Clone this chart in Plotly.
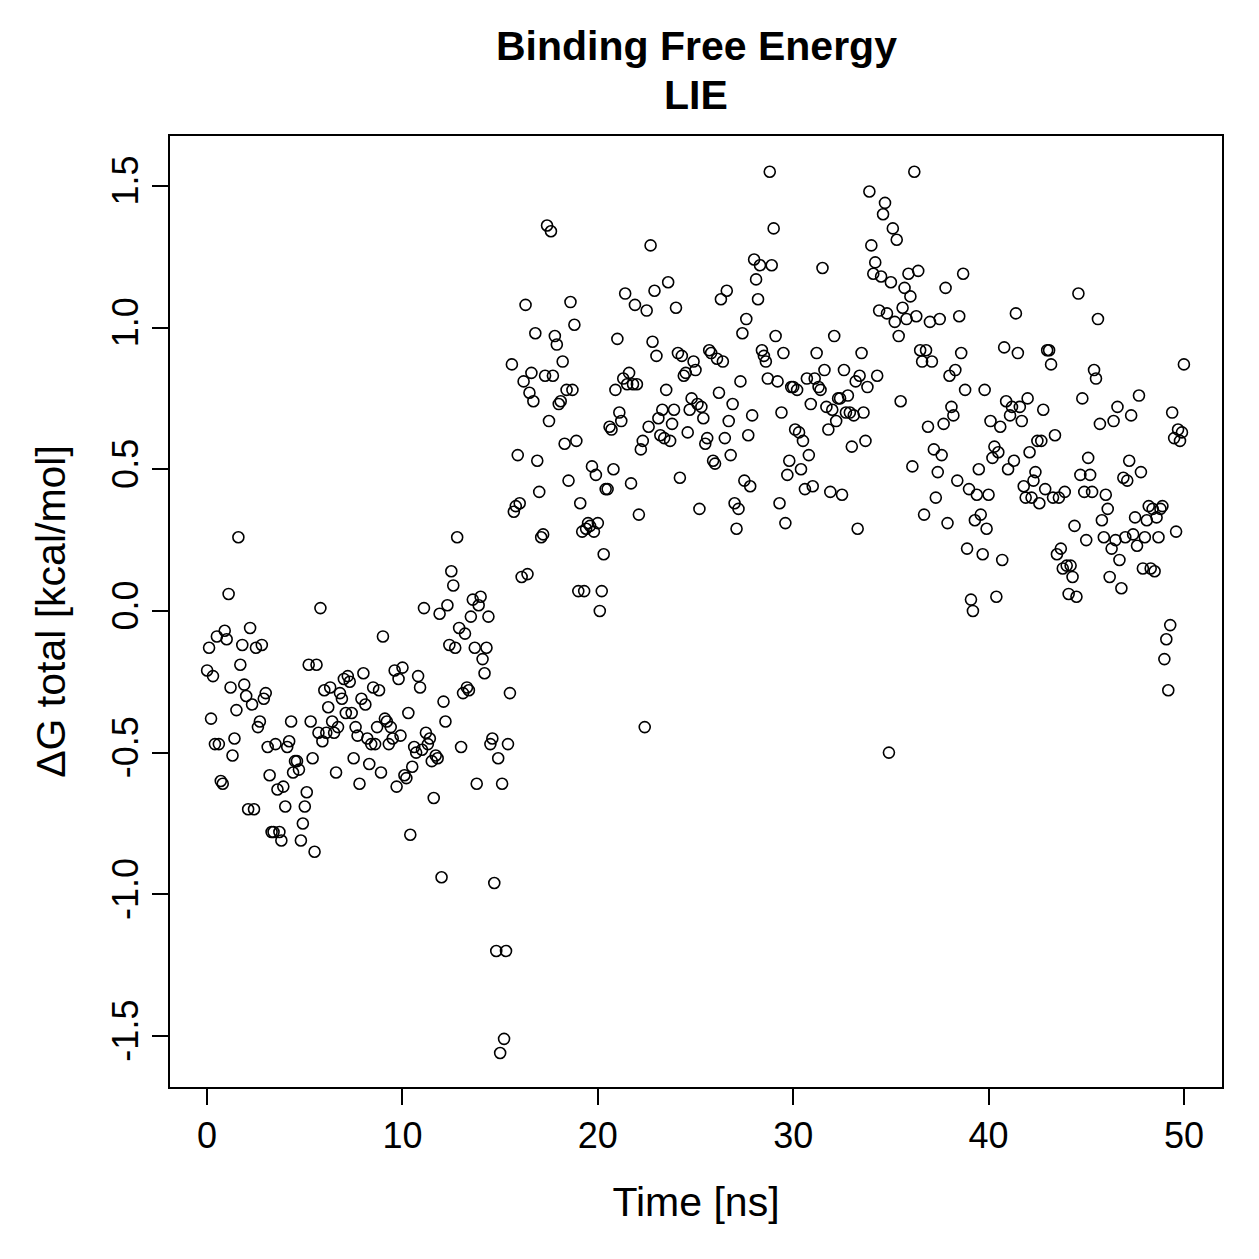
import plotly.graph_objects as go

# Delta G total (kcal/mol), one value every 0.1 ns from 0 to 50 ns
dg_total = [
    -0.21, -0.13, -0.38, -0.23, -0.47, -0.09, -0.47, -0.60, -0.61, -0.07,
    -0.10, 0.06, -0.27, -0.51, -0.45, -0.35, 0.26, -0.19, -0.12, -0.26,
    -0.30, -0.70, -0.06, -0.33, -0.70, -0.13, -0.41, -0.39, -0.12, -0.31,
    -0.29, -0.48, -0.58, -0.78, -0.78, -0.47, -0.63, -0.78, -0.81, -0.62,
    -0.69, -0.48, -0.46, -0.39, -0.57, -0.53, -0.53, -0.56, -0.81, -0.75,
    -0.69, -0.64, -0.19, -0.39, -0.52, -0.85, -0.19, -0.43, 0.01, -0.46,
    -0.28, -0.43, -0.34, -0.27, -0.39, -0.43, -0.57, -0.41, -0.29, -0.31,
    -0.24, -0.36, -0.23, -0.25, -0.36, -0.52, -0.41, -0.44, -0.61, -0.31,
    -0.22, -0.33, -0.45, -0.54, -0.47, -0.27, -0.47, -0.41, -0.28, -0.57,
    -0.09, -0.38, -0.39, -0.47, -0.41, -0.45, -0.21, -0.62, -0.24, -0.44,
    -0.20, -0.58, -0.59, -0.36, -0.79, -0.55, -0.48, -0.50, -0.23, -0.27,
    -0.49, 0.01, -0.43, -0.47, -0.45, -0.53, -0.66, -0.51, -0.52, -0.01,
    -0.94, -0.32, -0.39, 0.02, -0.12, 0.14, 0.09, -0.13, 0.26, -0.06,
    -0.48, -0.29, -0.08, -0.27, -0.28, -0.02, 0.04, -0.13, -0.61, 0.02,
    0.05, -0.17, -0.22, -0.13, -0.02, -0.47, -0.45, -0.96, -1.20, -0.52,
    -1.56, -0.61, -1.51, -1.20, -0.47, -0.29, 0.87, 0.35, 0.37, 0.55,
    0.38, 0.12, 0.81, 1.08, 0.13, 0.77, 0.84, 0.74, 0.98, 0.53,
    0.42, 0.26, 0.27, 0.83, 1.36, 0.67, 1.34, 0.83, 0.97, 0.94,
    0.73, 0.74, 0.88, 0.59, 0.78, 0.46, 1.09, 0.78, 1.01, 0.60,
    0.07, 0.38, 0.28, 0.07, 0.29, 0.31, 0.30, 0.51, 0.28, 0.48,
    0.31, 0.00, 0.07, 0.20, 0.43, 0.43, 0.65, 0.64, 0.50, 0.78,
    0.96, 0.70, 0.67, 0.82, 1.12, 0.80, 0.84, 0.45, 0.80, 1.08,
    0.80, 0.34, 0.57, 0.60, -0.41, 1.06, 0.65, 1.29, 0.95, 1.13,
    0.90, 0.68, 0.62, 0.71, 0.61, 0.78, 1.16, 0.60, 0.66, 0.71,
    1.07, 0.91, 0.47, 0.90, 0.83, 0.84, 0.63, 0.71, 0.75, 0.88,
    0.85, 0.73, 0.36, 0.72, 0.68, 0.59, 0.61, 0.92, 0.91, 0.53,
    0.52, 0.89, 0.77, 1.10, 0.88, 0.61, 1.13, 0.67, 0.55, 0.73,
    0.38, 0.29, 0.36, 0.81, 0.98, 0.46, 1.03, 0.62, 0.44, 0.69,
    1.24, 1.17, 1.10, 1.22, 0.92, 0.90, 0.88, 0.82, 1.55, 1.22,
    1.35, 0.97, 0.81, 0.38, 0.70, 0.91, 0.31, 0.48, 0.53, 0.79,
    0.79, 0.64, 0.78, 0.63, 0.50, 0.60, 0.43, 0.82, 0.55, 0.73,
    0.44, 0.82, 0.91, 0.79, 0.78, 1.21, 0.85, 0.72, 0.64, 0.42,
    0.71, 0.97, 0.67, 0.75, 0.75, 0.41, 0.85, 0.70, 0.76, 0.70,
    0.58, 0.69, 0.81, 0.29, 0.83, 0.91, 0.70, 0.60, 0.79, 1.48,
    1.29, 1.19, 1.23, 0.83, 1.06, 1.18, 1.40, 1.44, 1.05, -0.50,
    1.16, 1.35, 1.02, 1.31, 0.97, 0.74, 1.07, 1.14, 1.03, 1.19,
    1.11, 0.51, 1.55, 1.04, 1.20, 0.92, 0.88, 0.34, 0.92, 0.65,
    1.02, 0.88, 0.57, 0.40, 0.49, 1.03, 0.55, 0.66, 1.14, 0.31,
    0.83, 0.72, 0.69, 0.85, 0.46, 1.04, 0.91, 1.19, 0.78, 0.22,
    0.43, 0.04, 0.00, 0.32, 0.41, 0.50, 0.34, 0.20, 0.78, 0.29,
    0.41, 0.67, 0.54, 0.58, 0.05, 0.56, 0.65, 0.18, 0.93, 0.74,
    0.50, 0.69, 0.72, 0.53, 1.05, 0.91, 0.72, 0.67, 0.44, 0.40,
    0.75, 0.56, 0.40, 0.46, 0.49, 0.60, 0.38, 0.60, 0.71, 0.43,
    0.92, 0.92, 0.87, 0.40, 0.62, 0.20, 0.40, 0.22, 0.15, 0.42,
    0.16, 0.06, 0.16, 0.12, 0.30, 0.05, 1.12, 0.48, 0.75, 0.42,
    0.25, 0.54, 0.48, 0.42, 0.85, 0.82, 1.03, 0.66, 0.32, 0.26,
    0.41, 0.36, 0.12, 0.22, 0.67, 0.25, 0.72, 0.18, 0.08, 0.47,
    0.26, 0.46, 0.53, 0.69, 0.27, 0.33, 0.23, 0.76, 0.49, 0.15,
    0.26, 0.32, 0.37, 0.15, 0.36, 0.14, 0.33, 0.26, 0.36, 0.37,
    -0.17, -0.10, -0.28, -0.05, 0.70, 0.61, 0.28, 0.64, 0.60, 0.63, 0.87,
]
time_ns = [round(i * 0.1, 1) for i in range(len(dg_total))]

x_ticks = [0, 10, 20, 30, 40, 50]
y_ticks = [-1.5, -1.0, -0.5, 0.0, 0.5, 1.0, 1.5]
y_tick_labels = ["-1.5", "-1.0", "-0.5", "0.0", "0.5", "1.0", "1.5"]
title_lines = ["Binding Free Energy", "LIE"]

FONT = "Liberation Sans, Arial, Helvetica, sans-serif"

fig = go.Figure(
    go.Scatter(
        x=time_ns,
        y=dg_total,
        mode="markers",
        marker=dict(symbol="circle-open", size=11, color="black",
                    line=dict(width=1.6, color="black")),
        showlegend=False,
        hoverinfo="x+y",
    )
)

fig.update_layout(
    width=1259,
    height=1259,
    paper_bgcolor="white",
    plot_bgcolor="white",
    margin=dict(l=170, r=37, t=136, b=172),
    font=dict(family=FONT, color="black", size=36),
)

# two-line bold title, centred over the plotting region
for text, ypos in zip(title_lines, [1.0946, 1.0431]):
    fig.add_annotation(
        text=f"<b>{text}</b>", x=0.5, y=ypos, xref="paper", yref="paper",
        xanchor="center", yanchor="middle", showarrow=False,
        font=dict(family=FONT, size=41, color="black"),
    )

fig.update_xaxes(
    range=[-1.9, 51.95],
    tickvals=x_ticks,
    ticks="outside", ticklen=16, tickwidth=2, tickcolor="black",
    showline=True, linecolor="black", linewidth=2, mirror=True,
    showgrid=False, zeroline=False,
    tickfont=dict(family=FONT, size=36),
    title=dict(text="Time [ns]", font=dict(family=FONT, size=41), standoff=32),
)
fig.update_yaxes(
    range=[-1.68, 1.676],
    tickvals=y_ticks,
    ticktext=y_tick_labels,
    tickangle=-90,
    ticks="outside", ticklen=16, tickwidth=2, tickcolor="black",
    showline=True, linecolor="black", linewidth=2, mirror=True,
    showgrid=False, zeroline=False,
    tickfont=dict(family=FONT, size=36),
    title=dict(text="ΔG total [kcal/mol]", font=dict(family=FONT, size=41), standoff=26),
)

fig.write_html("out.html")
